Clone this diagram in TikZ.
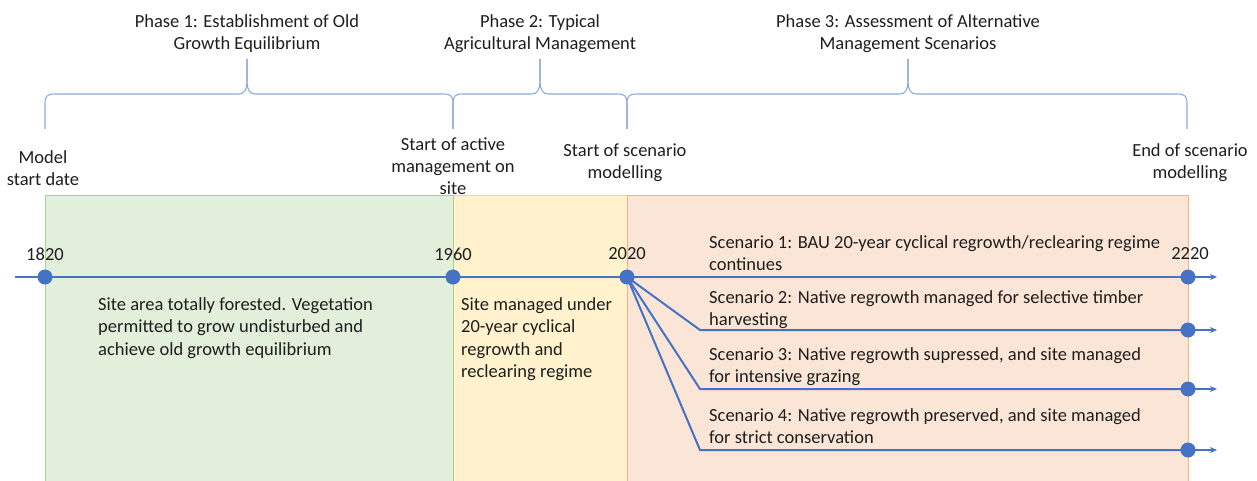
\documentclass[tikz,border=0pt]{standalone}
\usepackage{fontspec}
\setmainfont{Carlito}
\usetikzlibrary{arrows.meta}
\definecolor{lineblue}{RGB}{68,114,196}
\definecolor{braceblue}{RGB}{143,170,220}
\definecolor{greenfill}{RGB}{226,239,218}
\definecolor{greenedge}{RGB}{169,209,142}
\definecolor{yellowfill}{RGB}{255,242,204}
\definecolor{yellowedge}{RGB}{255,217,102}
\definecolor{orangefill}{RGB}{251,229,214}
\definecolor{orangeedge}{RGB}{244,177,131}
\definecolor{txt}{RGB}{30,30,30}
\newcommand\bracepath[3]{%
  \draw[brace] (#1,129) -- (#1,104) .. controls (#1,96) and ({#1+2},94) .. ({#1+10},94)
     -- ({#2-8},94) .. controls ({#2-3},94) and (#2,90) .. (#2,80) -- (#2,59);
  \draw[brace] (#2,59) -- (#2,80) .. controls (#2,90) and ({#2+3},94) .. ({#2+8},94)
     -- ({#3-10},94) .. controls ({#3-2},94) and (#3,96) .. (#3,104) -- (#3,129);
}
\begin{document}
\begin{tikzpicture}[x=1pt,y=-1pt,
  dot/.style={circle,fill=lineblue,minimum size=15pt,inner sep=0pt},
  tl/.style={lineblue,line width=2pt},
  arr/.style={lineblue,line width=1.5pt,-{Stealth[length=7pt,width=6pt]}},
  brace/.style={braceblue,line width=1.1pt},
  lbl/.style={text=txt,font=\fontsize{18.5}{22}\selectfont,align=center,inner sep=0pt},
  body/.style={text=txt,font=\fontsize{18.5}{22.3}\selectfont,align=left,inner sep=0pt,anchor=north west},
  band/.style={line width=1pt}
]
\useasboundingbox (0,0) rectangle (1257,481);
% background bands
\draw[band,fill=greenfill,draw=greenedge] (45,195) rectangle (453,485);
\draw[band,fill=yellowfill,draw=yellowedge] (453,195) rectangle (627,485);
\draw[band,fill=orangefill,draw=orangeedge] (627,195) rectangle (1188,485);
\draw[greenedge,line width=1pt] (453,195) -- (453,485);

% braces
\bracepath{45}{247}{453}
\bracepath{453}{540}{627}
\bracepath{627}{908}{1187}

% phase labels
\node[lbl] (p1) at (247,34) {Phase 1: Establishment of Old\\Growth Equilibrium};
\node[lbl] (p2) at (540,34) {Phase 2: Typical\\Agricultural Management};
\node[lbl] (p3) at (908,34) {Phase 3: Assessment of Alternative\\Management Scenarios};

% milestone labels
\node[lbl] (m1) at (43,168) {Model\\start date};
\node[lbl] (m2) at (453,166) {Start of active\\management on\\site};
\node[lbl] (m3) at (625,163) {Start of scenario\\modelling};
\node[lbl] (m4) at (1190,163) {End of scenario\\modelling};

% year labels
\node[lbl] (y1) at (45,254) {1820};
\node[lbl] (y2) at (453,254) {1960};
\node[lbl] (y3) at (627,254) {2020};
\node[lbl] (y4) at (1190,254) {2220};

% coordinates
\coordinate (s) at (15,277);
\coordinate (a1) at (1217,277);
\coordinate (c2) at (700,330);
\coordinate (c3) at (700,389);
\coordinate (c4) at (700,450);
\coordinate (a2) at (1217,330);
\coordinate (a3) at (1217,389);
\coordinate (a4) at (1217,450);

% dots
\node[dot] (d1820) at (45,277) {};
\node[dot] (d1960) at (453,277) {};
\node[dot] (d2020) at (627,277) {};
\node[dot] (d2220) at (1188,277) {};
\node[dot] (e2) at (1188,330) {};
\node[dot] (e3) at (1188,389) {};
\node[dot] (e4) at (1188,450) {};

% lines
\draw[tl] (s) -- (d1820.center) -- (d1960.center) -- (d2020.center) -- (d2220.center);
\draw[arr] (d2220.center) -- (a1);
\draw[tl] (d2020.center) -- (c2) -- (e2.center);
\draw[tl] (d2020.center) -- (c3) -- (e3.center);
\draw[tl] (d2020.center) -- (c4) -- (e4.center);
\draw[arr] (e2.center) -- (a2);
\draw[arr] (e3.center) -- (a3);
\draw[arr] (e4.center) -- (a4);

% body texts
\node[body] (t1) at (98,297.5) {Site area totally forested. Vegetation\\permitted to grow undisturbed and\\achieve old growth equilibrium};
\node[body] (t2) at (461,297.5) {Site managed under\\20-year cyclical\\regrowth and\\reclearing regime};
\node[body] (s1) at (709,235.5) {Scenario 1: BAU 20-year cyclical regrowth/reclearing regime\\continues};
\node[body] (s2) at (709,290.5) {Scenario 2: Native regrowth managed for selective timber\\harvesting};
\node[body] (s3) at (709,347.5) {Scenario 3: Native regrowth supressed, and site managed\\for intensive grazing};
\node[body] (s4) at (709,408.5) {Scenario 4: Native regrowth preserved, and site managed\\for strict conservation};
\end{tikzpicture}
\end{document}
